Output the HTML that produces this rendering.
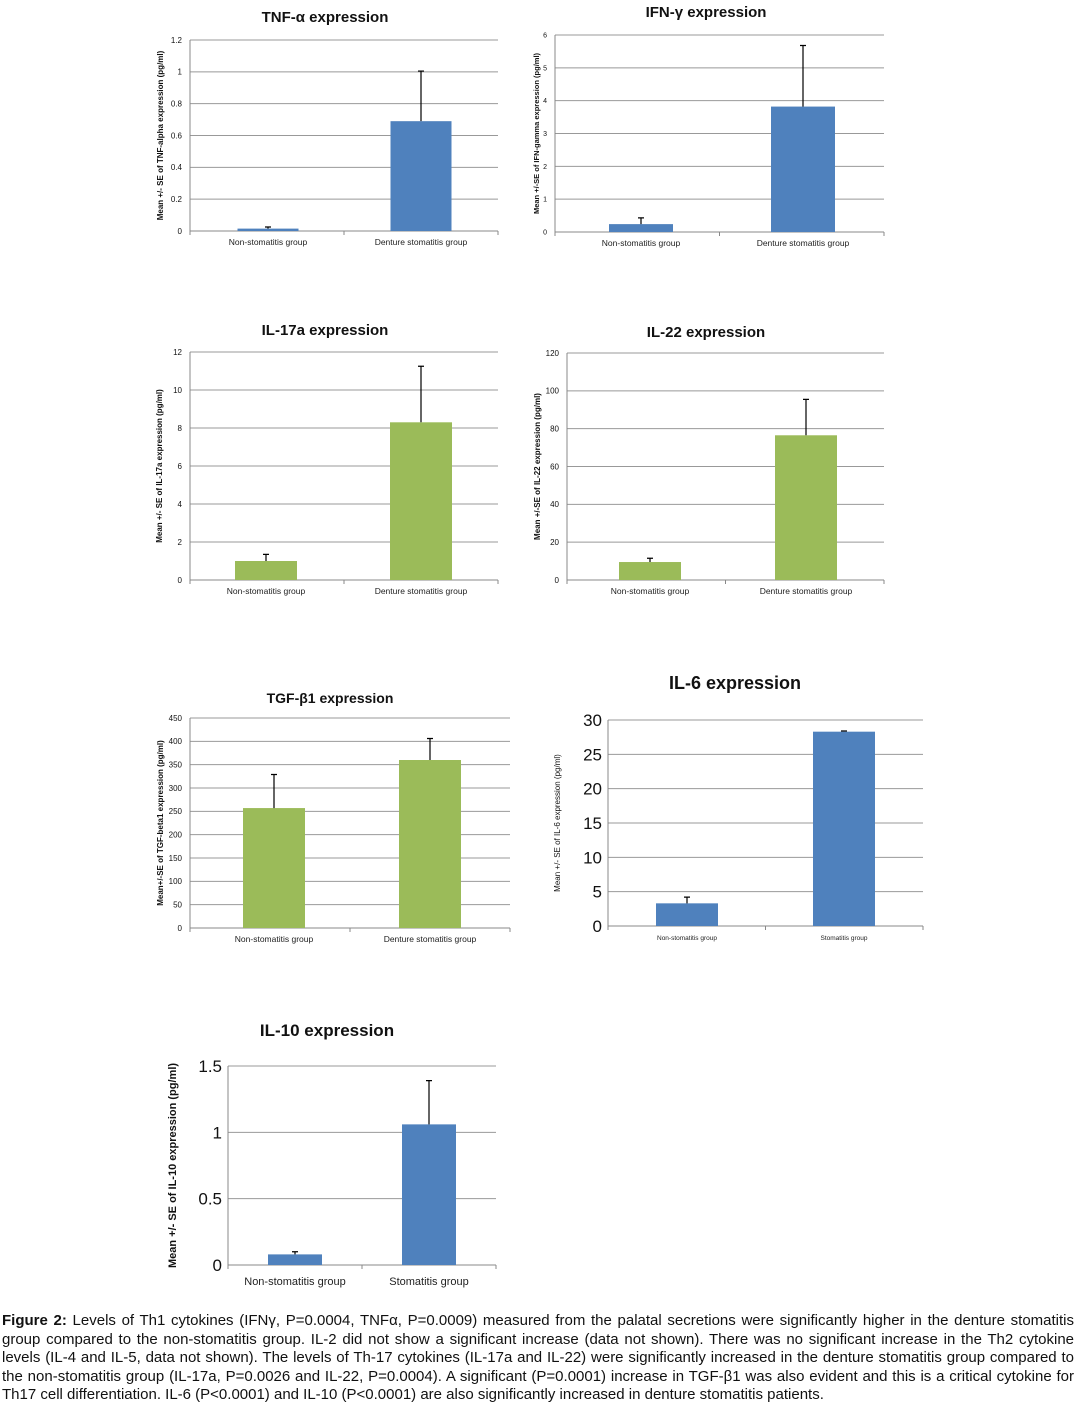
<!DOCTYPE html>
<html><head><meta charset="utf-8"><style>
body{margin:0;background:#fff;width:1082px;height:1407px;overflow:hidden;position:relative;font-family:"Liberation Sans",sans-serif}
#cap{position:absolute;left:2px;top:1312px;width:1072px;font-size:15px;line-height:18.6px;text-align:justify;color:#111}
svg{position:absolute;left:0;top:0}
</style></head><body>
<svg id="chart" width="1082" height="1310" viewBox="0 0 1082 1310"></svg>
<div id="cap"><b>Figure 2:</b> Levels of Th1 cytokines (IFNγ, P=0.0004, TNFα, P=0.0009) measured from the palatal secretions were significantly higher in the denture stomatitis group compared to the non-stomatitis group. IL-2 did not show a significant increase (data not shown). There was no significant increase in the Th2 cytokine levels (IL-4 and IL-5, data not shown). The levels of Th-17 cytokines (IL-17a and IL-22) were significantly increased in the denture stomatitis group compared to the non-stomatitis group (IL-17a, P=0.0026 and IL-22, P=0.0004). A significant (P=0.0001) increase in TGF-β1 was also evident and this is a critical cytokine for Th17 cell differentiation. IL-6 (P&lt;0.0001) and IL-10 (P&lt;0.0001) are also significantly increased in denture stomatitis patients.</div>
<script>
const titles=["TNF-α expression","IFN-γ expression","IL-17a expression","IL-22 expression","TGF-β1 expression","IL-6 expression","IL-10 expression"];
const yLabels=["Mean +/- SE of TNF-alpha expression (pg/ml)","Mean +/-SE of IFN-gamma expression (pg/ml)","Mean +/- SE of IL-17a expression (pg/ml)","Mean +/-SE of IL-22 expression (pg/ml)","Mean+/-SE of TGF-beta1 expression (pg/ml)","Mean +/-  SE of IL-6 expression  (pg/ml)","Mean +/- SE of IL-10 expression (pg/ml)"];
const categories=[["Non-stomatitis group","Denture stomatitis group"],["Non-stomatitis group","Denture stomatitis group"],["Non-stomatitis group","Denture stomatitis group"],["Non-stomatitis group","Denture stomatitis group"],["Non-stomatitis group","Denture stomatitis group"],["Non-stomatitis group","Stomatitis group"],["Non-stomatitis group","Stomatitis group"]];
const meanValues=[[0.015,0.69],[0.24,3.82],[1.0,8.3],[9.5,76.5],[257,360],[3.3,28.3],[0.08,1.06]];
const errorTops=[[0.025,1.005],[0.43,5.68],[1.35,11.25],[11.5,95.5],[329,406],[4.2,28.4],[0.1,1.39]];
const yMax=[1.2,6,12,120,450,30,1.5];
const yTicks=[["0","0.2","0.4","0.6","0.8","1","1.2"],["0","1","2","3","4","5","6"],["0","2","4","6","8","10","12"],["0","20","40","60","80","100","120"],["0","50","100","150","200","250","300","350","400","450"],["0","5","10","15","20","25","30"],["0","0.5","1","1.5"]];
// layout (not data)
const L=[
 {x0:190,x1:498,top:40,bot:231,bw:61,cx:[268,421],ty:22,tx:325,tf:15,kf:8,lx:163,cf:8.5,col:"#4F81BD"},
 {x0:555,x1:884,top:35,bot:232,bw:64,cx:[641,803],ty:17,tx:706,tf:15,kf:7,lx:539,cf:8.5,col:"#4F81BD"},
 {x0:190,x1:498,top:352,bot:580,bw:62,cx:[266,421],ty:335,tx:325,tf:15,kf:8,lx:162,cf:8.5,col:"#9BBB59"},
 {x0:567,x1:884,top:353,bot:580,bw:62,cx:[650,806],ty:337,tx:706,tf:15,kf:8,lx:540,cf:8.5,col:"#9BBB59"},
 {x0:190,x1:510,top:718,bot:928,bw:62,cx:[274,430],ty:703,tx:330,tf:14,kf:8,lx:163,cf:8.5,col:"#9BBB59"},
 {x0:608,x1:923,top:720,bot:926,bw:62,cx:[687,844],ty:689,tx:735,tf:18,kf:17,lx:560,cf:6.5,col:"#4F81BD"},
 {x0:228,x1:496,top:1066,bot:1265,bw:54,cx:[295,429],ty:1036,tx:327,tf:17,kf:17,lx:176,cf:11,col:"#4F81BD"}
];
const svg=document.getElementById('chart');
const NS="http://www.w3.org/2000/svg";
function mk(tag,attrs,parent){const e=document.createElementNS(NS,tag);for(const k in attrs)e.setAttribute(k,attrs[k]);(parent||svg).appendChild(e);return e;}
for(let i=0;i<L.length;i++){
 const c=L[i];
 const g=mk('g',{});
 
 
 const y=v=>c.bot-(v/yMax[i])*(c.bot-c.top);
 const t=mk('text',{x:c.tx,y:c.ty,'text-anchor':'middle','font-size':c.tf,'font-weight':'bold',fill:'#111'},g);t.textContent=titles[i];
 
 
 const n=yTicks[i].length;
 for(let k=0;k<n;k++){
  const v=yMax[i]*k/(n-1), yy=y(v);
  const gl=mk('line',{x1:c.x0,x2:c.x1,y1:yy,y2:yy,stroke:k==0?'#888':'#999','stroke-width':1},g);
  
  
  const tl=mk('text',{x:c.x0-(c.kf>10?6:8),y:yy+c.kf*0.35,'text-anchor':'end','font-size':c.kf,fill:'#111'},g);tl.textContent=yTicks[i][k];
  
  
 }
 mk('line',{x1:c.x0,x2:c.x0,y1:c.top,y2:c.bot,stroke:'#888'},g);
 const mid=(c.x0+c.x1)/2;
 [c.x0,mid,c.x1].forEach(xx=>mk('line',{x1:xx,x2:xx,y1:c.bot,y2:c.bot+4,stroke:'#888'},g));
 for(let j=0;j<2;j++){
  const v=meanValues[i][j],e=errorTops[i][j],cx=c.cx[j];
  const b=mk('rect',{x:cx-c.bw/2,y:y(v),width:c.bw,height:c.bot-y(v),fill:c.col},g);
  
  
  const eb=mk('path',{d:`M${cx},${y(v)}V${y(e)}M${cx-3},${y(e)}H${cx+3}`,stroke:'#000','stroke-width':1.2,fill:'none'},g);
  
  
  const cl=mk('text',{x:cx,y:c.bot+(c.cf>10?20:14),'text-anchor':'middle','font-size':c.cf,fill:'#222'},g);cl.textContent=categories[i][j];
  
  
 }
 const yl=mk('text',{x:0,y:0,transform:`translate(${c.lx},${(c.top+c.bot)/2}) rotate(-90)`,'text-anchor':'middle','font-size':i==6?11:(i==1?7.5:8),'font-weight':(i==5?'normal':'bold'),fill:'#111'},g);yl.textContent=yLabels[i];
 
 
}
</script>
</body></html>
